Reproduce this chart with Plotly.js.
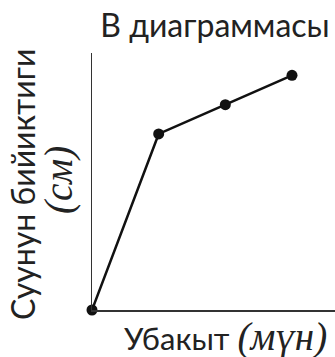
<!DOCTYPE html>
<html>
<head>
<meta charset="utf-8">
<script src="https://cdn.plot.ly/plotly-3.0.1.min.js"></script>
<style>html,body{margin:0;padding:0;background:#fff;}#chart{width:335px;height:357px;}</style>
</head>
<body>
<div id="chart"></div>
<script>
const titleText = 'В диаграммасы';
const xTitleText = 'Убакыт';
const xUnitText = 'мүн';
const yTitleText = 'Суунун бийиктиги';
const yUnitText = 'см';
const timeValues = [0, 1, 2, 3];
const heightValues = [0, 6, 7, 8];

const L = 92, R = 0, T = 53, B = 47;
const W = 335, H = 357;
const pw = W - L - R, ph = H - T - B;
function px(x){ return (x - L) / pw; }
function py(y){ return (H - B - y) / ph; }

const trace = {
  x: timeValues,
  y: heightValues,
  mode: 'lines+markers',
  line: {color: '#111', width: 2.5},
  marker: {color: '#111', size: 11},
  cliponaxis: false,
  hoverinfo: 'none'
};

const serif = "font-family:'Liberation Serif','DejaVu Serif',serif;font-style:italic;font-size:39px";

const layout = {
  width: W, height: H,
  margin: {l: L, r: R, t: T, b: B, pad: 0},
  paper_bgcolor: '#fff', plot_bgcolor: '#fff',
  showlegend: false,
  title: {
    text: titleText,
    font: {family: 'Lato', size: 32, color: '#222'},
    x: 215 / W, xanchor: 'center', xref: 'container',
    y: 1 - 26 / H, yanchor: 'middle', yref: 'container'
  },
  xaxis: {
    range: [0, 3.645], showgrid: false, zeroline: false, showticklabels: false,
    ticks: '', showline: true, linecolor: '#333', linewidth: 1.5, fixedrange: true
  },
  yaxis: {
    range: [0, 8.76], showgrid: false, zeroline: false, showticklabels: false,
    ticks: '', showline: true, linecolor: '#333', linewidth: 1.5, fixedrange: true
  },
  annotations: [
    {
      text: xTitleText + ' <span style="' + serif + '">(' + xUnitText + ')</span>',
      xref: 'paper', yref: 'paper', x: px(225), y: py(337),
      xanchor: 'center', yanchor: 'middle', showarrow: false,
      font: {family: 'Lato', size: 31, color: '#222'}
    },
    {
      text: yTitleText,
      xref: 'paper', yref: 'paper', x: px(22), y: py(185),
      xanchor: 'center', yanchor: 'middle', showarrow: false, textangle: -90,
      font: {family: 'Lato', size: 32, color: '#222'}
    },
    {
      text: '<span style="' + serif + '">(' + yUnitText + ')</span>',
      xref: 'paper', yref: 'paper', x: px(59), y: py(180),
      xanchor: 'center', yanchor: 'middle', showarrow: false, textangle: -90,
      font: {family: 'Lato', size: 32, color: '#222'}
    }
  ]
};

Plotly.newPlot('chart', [trace], layout, {displayModeBar: false, staticPlot: true});
</script>
</body>
</html>
